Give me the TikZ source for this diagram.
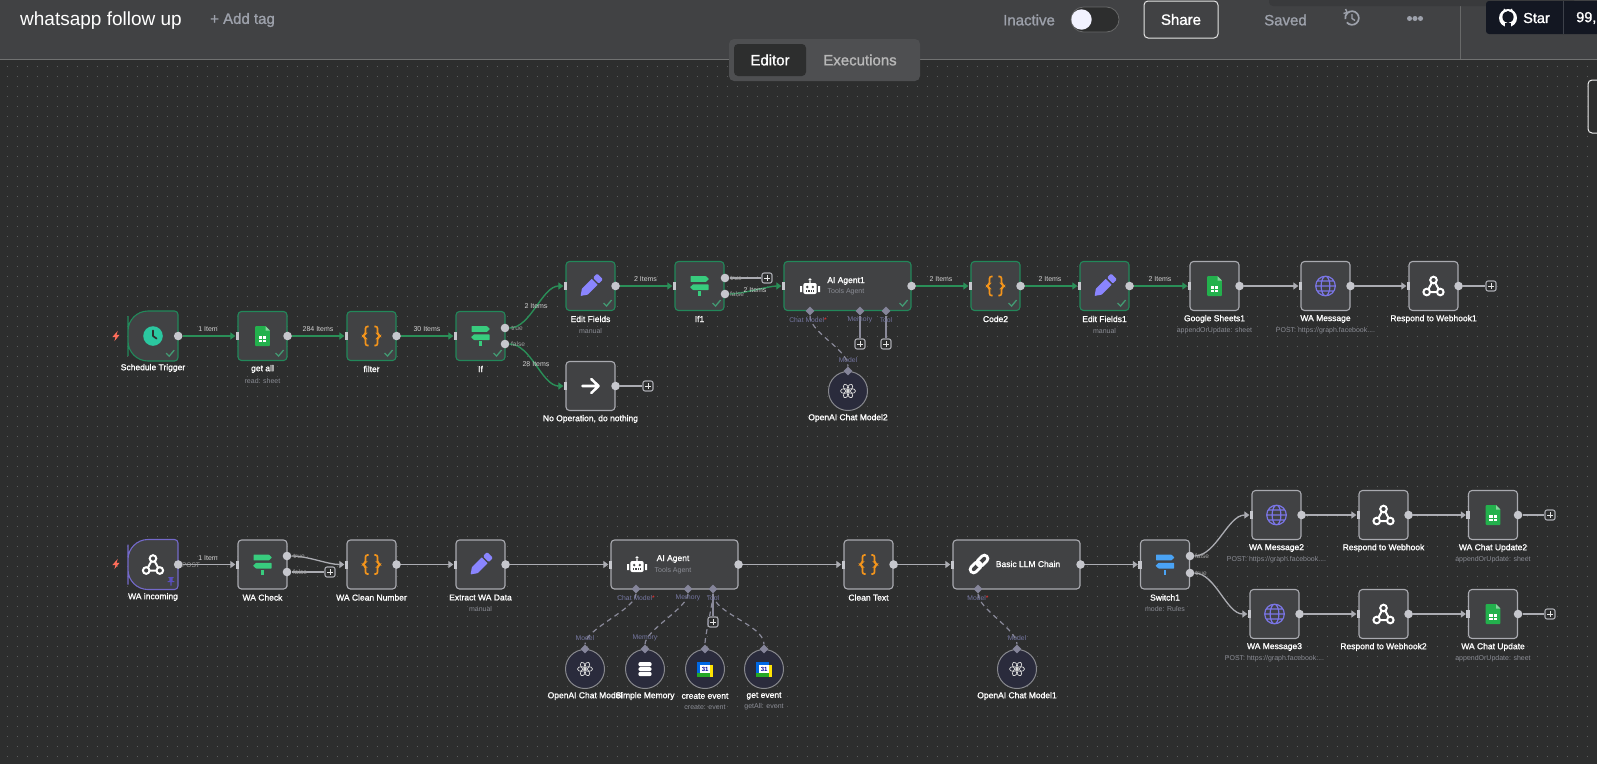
\documentclass[tikz,border=0pt]{standalone}
\usepackage{fontspec}
\setmainfont{Liberation Sans}
\newfontfamily\medf[FakeBold=1.2]{Liberation Sans}
\usetikzlibrary{arrows.meta,shapes.geometric}
\definecolor{canvasbg}{HTML}{2D2E2E}
\definecolor{headbg}{HTML}{414244}
\definecolor{nodefill}{HTML}{414244}
\definecolor{nodegray}{HTML}{A9AAB0}
\definecolor{okgreen}{HTML}{22885A}
\definecolor{edgegreen}{HTML}{2A8F58}
\definecolor{edgegray}{HTML}{ABACB2}
\definecolor{portgray}{HTML}{C6C7CD}
\definecolor{diagray}{HTML}{85859A}
\definecolor{linkgray}{HTML}{8A8A9A}
\definecolor{sublbl}{HTML}{8A8C94}
\definecolor{aimlbl}{HTML}{7476A0}
\definecolor{circfill}{HTML}{2A2B3C}
\definecolor{sheetgreen}{HTML}{23B14D}
\definecolor{ifgreen}{HTML}{38CC7E}
\definecolor{swblue}{HTML}{4AA3F5}
\definecolor{penpurple}{HTML}{8A85FF}
\definecolor{braceorange}{HTML}{F2941C}
\definecolor{clockteal}{HTML}{2BC7A0}
\definecolor{globepurple}{HTML}{7A75E6}
\definecolor{boltred}{HTML}{FF6D5A}
\definecolor{pinpurple}{HTML}{5A4FC0}
\definecolor{ghdark}{HTML}{131722}
\definecolor{headgray}{HTML}{9DA1AB}
\tikzset{
  x=1pt,y=-1pt,
  boxnode/.style={draw=nodegray,fill=nodefill,rounded corners=3.5,line width=1.1,minimum width=49,minimum height=49,inner sep=0},
  okbox/.style={draw=okgreen},
  wideshape/.style={minimum width=127},
  ghost/.style={draw=none,fill=none,minimum width=50,minimum height=50,inner sep=0},
  lbl/.style={font=\fontsize{8.5}{10}\medf,text=white,inner sep=0},
  slbl/.style={font=\fontsize{7}{8}\selectfont,text=sublbl,inner sep=0},
  clbl/.style={font=\fontsize{7}{8}\selectfont,text=white!82!black,inner sep=0},
  plbl/.style={font=\fontsize{6.6}{8}\selectfont,text=white!62!black,inner sep=0},
  ailbl/.style={font=\fontsize{6.8}{8}\selectfont,text=aimlbl,inner sep=0},
  outdot/.style={circle,fill=portgray,minimum size=8.6,inner sep=0},
  inrect/.style={rectangle,fill=portgray,minimum width=3.8,minimum height=8,inner sep=0},
  dia/.style={diamond,fill=diagray,minimum width=9,minimum height=9,inner sep=0},
  circnode/.style={circle,draw=nodegray!80!black,fill=circfill,line width=1,minimum size=39,inner sep=0},
  plusbox/.style={rectangle,draw=nodegray,fill=canvasbg,rounded corners=2,line width=1.1,minimum size=10,inner sep=0},
  edgeg/.style={draw=edgegreen,line width=1.4,-{Triangle[length=5pt,width=7pt]}},
  edgew/.style={draw=edgegray,line width=1.3,-{Triangle[length=5pt,width=7pt]}},
  edgep/.style={draw=edgegray,line width=1.3},
  auxline/.style={draw=linkgray,line width=1.2},
  auxdash/.style={draw=linkgray,line width=1.2,dashed,dash pattern=on 5pt off 4pt},
  iclock/.pic={\fill[clockteal] (0,0) circle (9.8);
    \draw[canvasbg,line width=1.7,line cap=round,line join=round] (0,-5.5) -- (0,0) -- (3.6,2.6);},
  isheet/.pic={\fill[sheetgreen,rounded corners=0.8] (-7.3,-10) -- (3,-10) -- (7.3,-5.5) -- (7.3,10) -- (-7.3,10) -- cycle;
    \fill[sheetgreen!55!white] (3,-10) -- (7.3,-5.5) -- (3,-5.5) -- cycle;
    \fill[white] (-3.6,0) rectangle (3.6,6.2);
    \draw[sheetgreen,line width=0.8] (-3.6,3) -- (3.6,3) (0,0) -- (0,6.2);},
  ibrace/.pic={\foreach \s in {1,-1}{\draw[braceorange,xscale=\s,line width=1.7,rounded corners=2] (-2.8,-9.5) -- (-6,-9.5) -- (-6,-1.4) -- (-9,0) -- (-6,1.4) -- (-6,9.5) -- (-2.8,9.5);}},
  isign/.pic={\fill[ifgreen,rounded corners=0.5] (-9,-9.8) -- (6.6,-9.8) -- (9.5,-7) -- (6.6,-4.2) -- (-9,-4.2) -- cycle;
    \fill[ifgreen,rounded corners=0.5] (-9.5,1.2) -- (-6.6,-1.6) -- (9,-1.6) -- (9,4) -- (-6.6,4) -- cycle;
    \fill[ifgreen] (-1.2,5.4) rectangle (1.2,10);},
  iswitch/.pic={\fill[swblue,rounded corners=0.5] (-9,-9.8) -- (6.6,-9.8) -- (9.5,-7) -- (6.6,-4.2) -- (-9,-4.2) -- cycle;
    \fill[swblue,rounded corners=0.5] (-9.5,1.2) -- (-6.6,-1.6) -- (9,-1.6) -- (9,4) -- (-6.6,4) -- cycle;
    \fill[swblue] (-1.2,5.4) rectangle (1.2,10);},
  ipencil/.pic={\begin{scope}[rotate=45]
    \fill[penpurple,rounded corners=0.6] (-14,0) -- (-8,-4.2) -- (6,-4.2) -- (6,4.2) -- (-8,4.2) -- cycle;
    \fill[penpurple,rounded corners=1.2] (7.6,-4.2) rectangle (13.5,4.2);
    \end{scope}},
  iarrow/.pic={\draw[white,line width=2.6,line cap=round,line join=round] (-8,0) -- (8,0) (0.8,-7) -- (8,0) -- (0.8,7);},
  irobot/.pic={\fill[white,rounded corners=2] (-6.7,-4) rectangle (6.7,7);
    \fill[white] (-8.0,-1) -- (-10,-1) -- (-10,5) -- (-8.0,5) -- cycle (8.0,-1) -- (10,-1) -- (10,5) -- (8.0,5) -- cycle;
    \fill[white] (0,-7.2) circle (1.6) (-0.7,-7) rectangle (0.7,-3.5);
    \fill[nodefill] (-2.8,0) circle (1.3) (2.8,0) circle (1.3);
    \foreach \q in {-3.2,-1.1,1.1,3.2}{\fill[nodefill] (\q-0.6,3.2) rectangle (\q+0.6,4.6);}},
  iopenai/.pic={\foreach \a in {0,60,...,300}{\draw[white!85!black,line width=0.7,rotate=\a] (3.6,0) ellipse (3.9 and 2.4);}},
  iweb/.pic={\draw[white,line width=2] (0,-6) circle (3.3) (-6.8,6) circle (3.3) (6.8,6) circle (3.3);
    \draw[white,line width=2] (-1.7,-3.2) -- (-5.1,3.1) (1.7,-3.2) -- (5.1,3.1) (-3.4,6) -- (3.4,6);},
  iglobe/.pic={\draw[globepurple,line width=1.2] (0,0) circle (9.8) (0,0) ellipse (4.4 and 9.8) (-9.6,0) -- (9.6,0) (-8.4,-5) -- (8.4,-5) (-8.4,5) -- (8.4,5);},
  ichain/.pic={\begin{scope}[rotate=45]\draw[white,line width=2.8,rounded corners=3.2] (-11,-3.4) rectangle (1.6,3.4);
    \draw[white,line width=2.8,rounded corners=3.2] (-1.6,-3.4) rectangle (11,3.4);\end{scope}},
  idb/.pic={\foreach \u/\v in {-7/-2.6,-1.9/2.1,2.8/7.2}{\fill[white,rounded corners=2] (-6.6,\u) rectangle (6.6,\v);}},
  ical/.pic={\fill[blue!55!cyan!90!black] (-7.8,-7.5) rectangle (5,7.5);
    \fill[green!60!black!85!white] (-7.8,3.8) rectangle (5,7.5);
    \fill[yellow!85!orange] (5,-4) rectangle (8,7.5);
    \fill[white] (-4.6,-4) rectangle (5,3.8);
    \node[inner sep=0,font=\fontsize{6}{6}\selectfont\bfseries,text=blue!60!black] (calnum) at (0.2,0) {31};},
  icheck/.pic={\draw[okgreen!85!white,line width=1.3] (-4,0) -- (-1,3) -- (4,-3);},
  ibolt/.pic={\fill[boltred] (1.8,-5.2) -- (-3.6,1) -- (-0.5,1) -- (-1.6,5.2) -- (3.6,-1.2) -- (0.5,-1.2) -- cycle;},
  ipin/.pic={\fill[pinpurple] (-2.6,-4) rectangle (2.6,-2.8) (-1.6,-2.8) rectangle (1.6,0) (-3.4,0) rectangle (3.4,1.2) (-0.6,1.2) rectangle (0.6,4.5);},
  iplus/.pic={\draw[white!90!black,line width=1] (-3,0) -- (3,0) (0,-3) -- (0,3);},
}
% id, cx, cy, extra style, icon, label, sublabel
\newcommand\wbox[7]{%
  \node[boxnode,#4] (#1) at (#2,#3) {};
  \pic at (#1) {#5};
  \node[lbl] (#1-l) at (#2,#3+33) {#6};
  \def\wtmp{#7}\ifx\wtmp\empty\else\node[slbl] (#1-s) at (#2,#3+44.5) {#7};\fi
}
\newcommand\wport[1]{\node[inrect] (#1-i) at (#1.west) {};\node[outdot] (#1-o) at (#1.east) {};}
\newcommand\wcheck[1]{\pic at ([shift={(-8,-8)}]#1.south east) {icheck};}
\newcommand\wplus[3]{\node[plusbox] (#1) at (#2,#3) {};\pic at (#1) {iplus};}
\newcommand\wcirc[6]{%
  \node[circnode] (#1) at (#2,#3) {};
  \pic at (#1) {#4};
  \node[dia] (#1-d) at (#1.north) {};
  \node[lbl] (#1-l) at (#2,#3+27) {#5};
  \def\wtmp{#6}\ifx\wtmp\empty\else\node[slbl] (#1-s) at (#2,#3+38) {#6};\fi
}
\newcommand\wtrig[4]{%
  \begin{scope}[shift={(#2,#3)}]
    \filldraw[draw=#4,fill=nodefill,line width=1.1] (-25,0) [rounded corners=20] -- (-25,-25) [rounded corners=3.5] -- (25,-25) -- (25,25) [rounded corners=20] -- (-25,25) -- cycle;
  \end{scope}
  \node[ghost] (#1) at (#2,#3) {};
}
\begin{document}
\begin{tikzpicture}
\useasboundingbox (0,0) rectangle (1597,764);
\clip (0,0) rectangle (1597,764);
\fill[canvasbg] (0,0) rectangle (1597,764);
\foreach \r in {0,...,69}{
  \draw[white!22!canvasbg,line width=0.8,dash pattern=on 0.8pt off 9.2pt] (7.1,66.7+10*\r) -- (1597,66.7+10*\r);
}
% header
\fill[headbg] (0,0) rectangle (1597,59);
\draw[white!32!canvasbg,line width=1] (0,59) -- (1597,59);
\draw[white!28!canvasbg,line width=0.8] (1460,0) -- (1460,59);
\fill[black!12!headbg,rounded corners=4] (1269,-8) rectangle (1574,6);
\node[font=\fontsize{19}{21}\selectfont,text=white,anchor=west,inner sep=0] (title) at (20,21) {whatsapp follow up};
\node[font=\fontsize{15}{17}\medf,text=headgray,anchor=west,inner sep=0] (addtag) at (210,20) {+ Add tag};
\node[font=\fontsize{15}{17}\medf,text=headgray,anchor=west,inner sep=0] (inactive) at (1003,20) {Inactive};
\fill[canvasbg,draw=white!28!canvasbg,line width=0.8,rounded corners=12.5] (1071,7) rectangle (1119,32);
\fill[white!95!blue] (1081.5,19.5) circle (10.2);
\node[draw=white!90!black,line width=1,rounded corners=4,minimum width=74,minimum height=37,inner sep=0,fill=headbg,font=\fontsize{15}{17}\medf,text=white] (share) at (1181,19.5) {Share};
\node[font=\fontsize{15}{17}\medf,text=headgray,anchor=west,inner sep=0] (saved) at (1264,20) {Saved};
\draw[headgray,line width=1.7] (1352,18) ++(140:6.8) arc[start angle=140,end angle=-190,radius=6.8];
\draw[headgray,line width=1.4] (1347,12) -- (1345.5,9) (1347,12.6) -- (1343.5,13.4) (1352,14) -- (1352,18.5) -- (1355,20.5);
\fill[headgray] (1409.5,18.5) circle (2.5) (1415,18.5) circle (2.5) (1420.5,18.5) circle (2.5);
\fill[ghdark,rounded corners=3] (1486,1) rectangle (1610,34);
\draw[white!18!ghdark,line width=0.8] (1563,1) -- (1563,34);
\fill[white] (1508,18) circle (9);
\fill[ghdark] (1508,17) ellipse (5.6 and 6);
\fill[ghdark] (1504.8,23) rectangle (1511.2,28);
\fill[white] (1504,8.5) -- (1507,11) -- (1503,12) -- cycle (1512,8.5) -- (1509,11) -- (1513,12) -- cycle;
\node[font=\fontsize{14.5}{16}\medf,text=white,anchor=west,inner sep=0] (star) at (1523,18) {Star};
\node[font=\fontsize{14.5}{16}\medf,text=white,anchor=west,inner sep=0] (stars) at (1576,18) {99,};
\filldraw[fill=canvasbg,draw=white!92!black,line width=1,rounded corners=4] (1588,80) rectangle (1610,133);
% tabs
\node[fill=white!7!headbg,rounded corners=5,minimum width=191,minimum height=42,inner sep=0] (tabs) at (824.5,60) {};
\node[fill=canvasbg,rounded corners=4,minimum width=72,minimum height=32,inner sep=0,font=\fontsize{15}{17}\medf,text=white] (tabed) at (770,60) {Editor};
\node[font=\fontsize{15}{17}\medf,text=white!72!black,inner sep=0] (tabex) at (860,60) {Executions};

% ---- top flow nodes
\wtrig{st}{153}{336}{okgreen}
\pic at (st) {iclock};
\node[lbl] (st-l) at (153,368) {Schedule Trigger};
\pic at (116,336) {ibolt};
\node[outdot] (st-o) at (st.east) {};
\wcheck{st}
\wbox{ga}{262.5}{336}{okbox}{isheet}{get all}{read: sheet}\wport{ga}\wcheck{ga}
\wbox{fl}{371.5}{336}{okbox}{ibrace}{filter}{}\wport{fl}\wcheck{fl}
\wbox{ifa}{480.5}{336}{okbox}{isign}{If}{}\wcheck{ifa}
\node[inrect] (ifa-i) at (ifa.west) {};
\node[outdot] (ifa-t) at (505,328) {};
\node[outdot] (ifa-f) at (505,344) {};
\wbox{ef}{590.5}{286}{okbox}{ipencil}{Edit Fields}{manual}\wport{ef}\wcheck{ef}
\wbox{no}{590.5}{386}{}{iarrow}{No Operation, do nothing}{}\wport{no}
\wplus{nop}{648}{386}
\wbox{ifb}{699.5}{286}{okbox}{isign}{If1}{}\wcheck{ifb}
\node[inrect] (ifb-i) at (ifb.west) {};
\node[outdot] (ifb-t) at (725,278) {};
\node[outdot] (ifb-f) at (725,294) {};
\wplus{ifbp}{767}{278}
\node[boxnode,okbox,wideshape] (ag) at (847.5,286) {};
\pic at (810,287) {irobot};
\node[lbl] (ag-l) at (846,281) {AI Agent1};
\node[slbl] (ag-s) at (846,292) {Tools Agent};
\wport{ag}\wcheck{ag}
\node[dia] (ag-a) at (810,311) {};
\node[dia] (ag-b) at (860,311) {};
\node[dia] (ag-c) at (886,311) {};
\wplus{agp1}{860}{344}
\wplus{agp2}{886}{344}
\wcirc{om2}{848}{391}{iopenai}{OpenAI Chat Model2}{}
\wbox{c2}{995.5}{286}{okbox}{ibrace}{Code2}{}\wport{c2}\wcheck{c2}
\wbox{ef1}{1104.5}{286}{okbox}{ipencil}{Edit Fields1}{manual}\wport{ef1}\wcheck{ef1}
\wbox{gs}{1214.5}{286}{}{isheet}{Google Sheets1}{appendOrUpdate: sheet}\wport{gs}
\wbox{wm}{1325.5}{286}{}{iglobe}{WA Message}{POST: https://graph.facebook....}\wport{wm}
\wbox{rw1}{1433.5}{286}{}{iweb}{Respond to Webhook1}{}\wport{rw1}
\wplus{rw1p}{1491}{286}

% ---- top flow edges
\draw[edgeg] (st-o) -- (ga-i);
\draw[edgeg] (ga-o) -- (fl-i);
\draw[edgeg] (fl-o) -- (ifa-i);
\draw[edgeg] (ifa-t) to[out=0,in=180,looseness=0.8] (ef-i);
\draw[edgeg] (ifa-f) to[out=0,in=180,looseness=0.8] (no-i);
\draw[edgeg] (ef-o) -- (ifb-i);
\draw[edgep] (ifb-t) -- (ifbp);
\draw[edgeg] (ifb-f) to[out=0,in=180,looseness=0.6] (ag-i);
\draw[edgeg] (ag-o) -- (c2-i);
\draw[edgeg] (c2-o) -- (ef1-i);
\draw[edgeg] (ef1-o) -- (gs-i);
\draw[edgew] (gs-o) -- (wm-i);
\draw[edgew] (wm-o) -- (rw1-i);
\draw[edgep] (rw1-o) -- (rw1p);
\draw[edgep] (no-o) -- (nop);
\draw[auxline] (ag-b) -- (agp1);
\draw[auxline] (ag-c) -- (agp2);
\draw[auxdash] (ag-a) to[out=-90,in=90,looseness=0.7] (om2-d);
\node[ailbl] (ag-al) at (808,320) {Chat Model\textcolor{red!80!white}{*}};
\node[ailbl] (ag-bl) at (860,320) {Memory};
\node[ailbl] (ag-cl) at (886,320) {Tool};
\node[ailbl] (om2-t) at (848,360) {Model};
\node[clbl] (e1) at (208,329) {1 Item};
\node[clbl] (e2) at (318,329) {284 Items};
\node[clbl] (e3) at (427,329) {30 Items};
\node[clbl] (e4) at (536,306.5) {2 Items};
\node[clbl] (e5) at (536,364.5) {28 Items};
\node[plbl] (e6) at (517,328) {true};
\node[plbl] (e7) at (518,344) {false};
\node[clbl] (e8) at (645.5,279.5) {2 Items};
\node[plbl] (e9) at (736,278) {true};
\node[plbl] (e10) at (737,294) {false};
\node[clbl] (e11) at (755,290) {2 Items};
\node[clbl] (e12) at (941,279.5) {2 Items};
\node[clbl] (e13) at (1050,279.5) {2 Items};
\node[clbl] (e14) at (1160,279.5) {2 Items};

% ---- bottom flow nodes
\wtrig{wi}{153}{564.5}{pinpurple!85!white}
\pic at (wi) {iweb};
\pic at (171,581) {ipin};
\node[lbl] (wi-l) at (153,597) {WA incoming};
\pic at (116,564) {ibolt};
\node[outdot] (wi-o) at (wi.east) {};
\wbox{wc}{262.5}{564.5}{}{isign}{WA Check}{}
\node[inrect] (wc-i) at (wc.west) {};
\node[outdot] (wc-t) at (287,556) {};
\node[outdot] (wc-f) at (287,572) {};
\wplus{wcp}{330}{572}
\wbox{wn}{371.5}{564.5}{}{ibrace}{WA Clean Number}{}\wport{wn}
\wbox{ex}{480.5}{564.5}{}{ipencil}{Extract WA Data}{manual}\wport{ex}
\node[boxnode,wideshape] (ai) at (674.5,564.5) {};
\pic at (637,565) {irobot};
\node[lbl] (ai-l) at (673,559) {AI Agent};
\node[slbl] (ai-s) at (673,571) {Tools Agent};
\wport{ai}
\node[dia] (ai-a) at (636,589) {};
\node[dia] (ai-b) at (688,589) {};
\node[dia] (ai-c) at (713,589) {};
\wplus{aip}{713}{622}
\wcirc{cm}{585}{669}{iopenai}{OpenAI Chat Model}{}
\wcirc{cs}{645}{669}{idb}{Simple Memory}{}
\wcirc{cc}{705}{669}{ical}{create event}{create: event}
\wcirc{cg}{764}{669}{ical}{get event}{getAll: event}
\wbox{ct}{868.5}{564.5}{}{ibrace}{Clean Text}{}\wport{ct}
\node[boxnode,wideshape] (ll) at (1016.5,564.5) {};
\pic at (979,564) {ichain};
\node[lbl] (ll-l) at (1028,564) {Basic LLM Chain};
\wport{ll}
\node[dia] (ll-a) at (978,589) {};
\wcirc{om1}{1017}{669}{iopenai}{OpenAI Chat Model1}{}
\wbox{sw}{1165}{564.5}{}{iswitch}{Switch1}{mode: Rules}
\node[inrect] (sw-i) at (sw.west) {};
\node[outdot] (sw-f) at (1190,556) {};
\node[outdot] (sw-t) at (1190,573) {};
\wbox{m2}{1276.5}{515}{}{iglobe}{WA Message2}{POST: https://graph.facebook....}\wport{m2}
\wbox{r0}{1383.5}{515}{}{iweb}{Respond to Webhook}{}\wport{r0}
\wbox{u2}{1493}{515}{}{isheet}{WA Chat Update2}{appendOrUpdate: sheet}\wport{u2}
\wplus{u2p}{1550}{515}
\wbox{m3}{1274.5}{614}{}{iglobe}{WA Message3}{POST: https://graph.facebook....}\wport{m3}
\wbox{r2}{1383.5}{614}{}{iweb}{Respond to Webhook2}{}\wport{r2}
\wbox{u1}{1493}{614}{}{isheet}{WA Chat Update}{appendOrUpdate: sheet}\wport{u1}
\wplus{u1p}{1550}{614}

% ---- bottom flow edges
\draw[edgew] (wi-o) -- (wc-i);
\draw[edgew] (wc-t) to[out=0,in=180,looseness=0.8] (wn-i);
\draw[edgep] (wc-f) -- (wcp);
\draw[edgew] (wn-o) -- (ex-i);
\draw[edgew] (ex-o) -- (ai-i);
\draw[edgew] (ai-o) -- (ct-i);
\draw[edgew] (ct-o) -- (ll-i);
\draw[edgew] (ll-o) -- (sw-i);
\draw[edgew] (sw-f) to[out=0,in=180,looseness=0.8] (m2-i);
\draw[edgew] (sw-t) to[out=0,in=180,looseness=0.8] (m3-i);
\draw[edgew] (m2-o) -- (r0-i);
\draw[edgew] (r0-o) -- (u2-i);
\draw[edgep] (u2-o) -- (u2p);
\draw[edgew] (m3-o) -- (r2-i);
\draw[edgew] (r2-o) -- (u1-i);
\draw[edgep] (u1-o) -- (u1p);
\draw[auxline] (ai-c) -- (aip);
\draw[auxdash] (ai-a) to[out=-90,in=90,looseness=0.55] (cm-d);
\draw[auxdash] (ai-b) to[out=-90,in=90,looseness=0.55] (cs-d);
\draw[auxdash] (ai-c) to[out=-90,in=90,looseness=0.5] (cc-d);
\draw[auxdash] (ai-c) to[out=-90,in=90,looseness=0.7] (cg-d);
\draw[auxdash] (ll-a) to[out=-90,in=90,looseness=0.6] (om1-d);
\node[ailbl] (ai-al) at (636,598) {Chat Model\textcolor{red!80!white}{*}};
\node[ailbl] (ai-bl) at (688,598) {Memory};
\node[ailbl] (ai-cl) at (713,598) {Tool};
\node[ailbl] (cm-t) at (585,638) {Model};
\node[ailbl] (cs-t) at (645,638) {Memory};
\node[ailbl] (ll-al) at (978,598) {Model\textcolor{red!80!white}{*}};
\node[ailbl] (om1-t) at (1017,638) {Model};
\node[clbl] (f1) at (208,558) {1 Item};
\node[plbl] (f2) at (191,565) {POST};
\node[plbl] (f3) at (299,556) {true};
\node[plbl] (f4) at (300,572) {false};
\node[plbl] (f5) at (1202,556) {false};
\node[plbl] (f6) at (1201,573) {true};
\end{tikzpicture}
\end{document}
